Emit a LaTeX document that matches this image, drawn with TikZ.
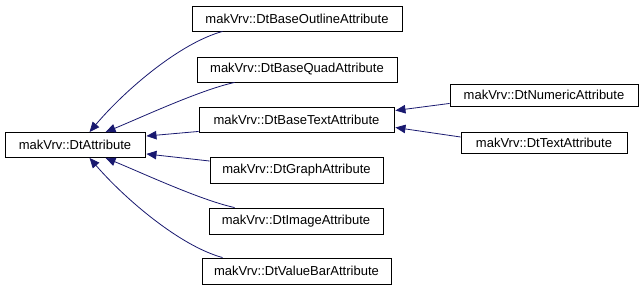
\documentclass[tikz,border=0pt]{standalone}
\usepackage{fontspec}
\setmainfont{Liberation Sans}
\usetikzlibrary{arrows.meta,calc}
\definecolor{edgeblue}{RGB}{25,25,112}
\tikzset{
  cls/.style={draw=black,fill=white,line width=0.9pt,inner sep=0pt,font=\fontsize{13}{15}\selectfont},
  inh/.style={draw=edgeblue,line width=0.8pt,-{Triangle[length=10pt,width=8.5pt]}}
}
\begin{document}
\begin{tikzpicture}[x=1pt,y=-1pt]
\useasboundingbox[fill=white] (0,0) rectangle (643,291);
\node[cls,minimum width=140pt,minimum height=25pt] (A) at (75,145) {makVrv::DtAttribute};
\node[cls,minimum width=210pt,minimum height=25pt] (O) at (297,18.5) {makVrv::DtBaseOutlineAttribute};
\node[cls,minimum width=200pt,minimum height=25pt] (Q) at (297,69.5) {makVrv::DtBaseQuadAttribute};
\node[cls,minimum width=195pt,minimum height=25pt] (T) at (296.5,119.5) {makVrv::DtBaseTextAttribute};
\node[cls,minimum width=173pt,minimum height=26pt] (G) at (296.5,170) {makVrv::DtGraphAttribute};
\node[cls,minimum width=174pt,minimum height=26pt] (I) at (296,221) {makVrv::DtImageAttribute};
\node[cls,minimum width=189pt,minimum height=26pt] (V) at (296.5,271) {makVrv::DtValueBarAttribute};
\node[cls,minimum width=188pt,minimum height=22pt] (N) at (544,95) {makVrv::DtNumericAttribute};
\node[cls,minimum width=166pt,minimum height=21pt] (X) at (544,142.5) {makVrv::DtTextAttribute};
% edges to DtAttribute
\draw[inh] ($(O.south west)+(31,0)$) .. controls (180,43) and (125,90) .. ($(A.north west)+(85,0)$);
\draw[inh] ($(Q.south west)+(38,0)$) .. controls (200,90) and (140,118) .. ($(A.north west)+(101,0)$);
\draw[inh] ($(T.south west)+(0,-1)$) -- ($(A.north east)+(1,4)$);
\draw[inh] ($(G.west)+(0,-9)$) -- ($(A.south east)+(1,-4)$);
\draw[inh] ($(I.north west)+(26,0)$) .. controls (200,200) and (140,172) .. ($(A.south west)+(101,0)$);
\draw[inh] ($(V.north west)+(21,0)$) .. controls (180,246) and (125,199) .. ($(A.south west)+(85,0)$);
% edges to DtBaseTextAttribute
\draw[inh] ($(N.south west)+(0,-3)$) -- ($(T.east)+(1,-9)$);
\draw[inh] ($(X.west)+(0,-5.5)$) -- ($(T.east)+(1,8)$);
\end{tikzpicture}
\end{document}
